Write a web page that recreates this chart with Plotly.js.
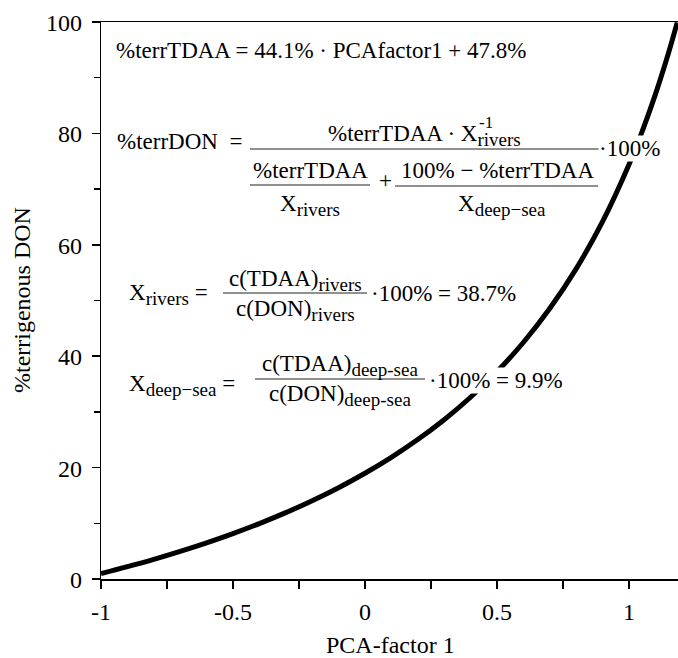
<!DOCTYPE html>
<html><head><meta charset="utf-8">
<script src="https://cdn.plot.ly/plotly-3.0.1.min.js"></script>
<style>html,body{margin:0;padding:0;background:#fff}#chart{width:678px;height:658px}</style>
</head><body><div id="chart"></div>
<script>
// Data
const pcaFactor = [-1, -0.9, -0.8, -0.7, -0.6, -0.5, -0.4, -0.3, -0.2, -0.1, 0, 0.1, 0.2, 0.3, 0.4, 0.5, 0.6, 0.7, 0.8, 0.9, 1.0, 1.05, 1.1, 1.15, 1.183];
const terrDON   = [0.97, 2.21, 3.53, 4.96, 6.49, 8.15, 9.95, 11.91, 14.05, 16.39, 18.98, 21.84, 25.03, 28.60, 32.63, 37.21, 42.46, 48.55, 55.68, 64.15, 74.38, 80.33, 86.97, 94.44, 99.9];
const xTickVals = [-1, -0.5, 0, 0.5, 1];
const xTickText = ['-1', '-0.5', '0', '0.5', '1'];
const xMinorVals = [-0.75, -0.25, 0.25, 0.75];
const yTickVals = [0, 20, 40, 60, 80, 100];
const yTickText = ['0', '20', '40', '60', '80', '100'];
const yMinorVals = [10, 30, 50, 70, 90];
const xTitle = 'PCA-factor 1';
const yTitle = '%terrigenous DON';

const L = 101, R = 678, T = 22, B = 579;
const W = R - L, H = B - T;
const px = x => (x - L) / W, py = y => (B - y) / H;
const FONT = 'Liberation Serif, Times New Roman, serif';
const sub = t => `<sub><span style="font-size:19px">${t}</span></sub>`;
const NB = '\u00A0';

const annotations = [];
function txt(text, x, y, anchor, opts) {
  const a = Object.assign({
    text: text, x: px(x), y: py(y), xref: 'paper', yref: 'paper',
    xanchor: anchor, yanchor: 'middle', showarrow: false, borderpad: 0,
    font: {family: FONT, size: 23, color: '#000'}
  }, opts || {});
  annotations.push(a);
}
const shapes = [];
function bar(x0, x1, y) {
  shapes.push({type: 'line', xref: 'paper', yref: 'paper',
    x0: px(x0), x1: px(x1), y0: py(y), y1: py(y),
    line: {color: '#222', width: 1.2}});
}

// tick labels placed through the axes' own scales
const tickFont = {family: FONT, size: 24, color: '#000'};
xTickVals.forEach((v, i) => annotations.push({
  text: xTickText[i], x: v, xref: 'x', y: py(612), yref: 'paper',
  xanchor: 'center', yanchor: 'middle', showarrow: false, borderpad: 0, font: tickFont
}));
yTickVals.forEach((v, i) => annotations.push({
  text: yTickText[i], y: v, yref: 'y', x: px(83), xref: 'paper',
  xanchor: 'right', yanchor: 'middle', yshift: -1, showarrow: false, borderpad: 0, font: tickFont
}));

// axis titles
txt(xTitle, 390, 645, 'center', {font: {family: FONT, size: 24, color: '#000'}});
txt(yTitle, 22, 300, 'center', {textangle: -90, font: {family: FONT, size: 24, color: '#000'}});

txt('%terrTDAA = 44.1% · PCAfactor1 + 47.8%', 115, 50, 'left');

txt('%terrDON' + NB + NB + '=', 116, 141, 'left');
txt('%terrTDAA · X' + sub('rivers'), 424, 135, 'center');
txt('-1', 478, 123, 'left', {font: {family: FONT, size: 17, color: '#000'}});
bar(250, 600, 149);
txt('%terrTDAA', 310, 170, 'center');
bar(250, 370, 185);
txt('X' + sub('rivers'), 310, 205, 'center');
txt('+', 385, 181, 'center');
txt('100% − %terrTDAA', 497, 170, 'center');
bar(395, 598, 186);
txt('X' + sub('deep−sea'), 502, 205, 'center');
txt('·100%', 598, 148, 'left', {bgcolor: '#fff'});

txt('X' + sub('rivers') + NB + '=', 128, 294, 'left');
txt('c(TDAA)' + sub('rivers'), 295, 280, 'center');
bar(223, 367, 293);
txt('c(DON)' + sub('rivers'), 295, 311, 'center');
txt('·100% = 38.7%', 370, 293, 'left');

txt('X' + sub('deep−sea') + NB + '=', 128, 385, 'left');
txt('c(TDAA)' + sub('deep-sea'), 340, 365, 'center');
bar(255, 425, 379);
txt('c(DON)' + sub('deep-sea'), 340, 395, 'center');
txt('·100% = 9.9%', 428, 380, 'left', {bgcolor: '#fff'});

const trace = {
  x: pcaFactor, y: terrDON, type: 'scatter', mode: 'lines',
  line: {color: '#000', width: 5, shape: 'spline', smoothing: 1},
  hoverinfo: 'none'
};

const axisCommon = {
  showgrid: false, zeroline: false, showline: true, linecolor: '#000', linewidth: 1.5,
  ticks: 'outside', ticklen: 8, tickwidth: 1.5, tickcolor: '#000',
  showticklabels: false, tickmode: 'array', fixedrange: true
};

const layout = {
  width: 678, height: 658,
  margin: {l: L, r: 678 - R, t: T, b: 658 - B, pad: 0},
  paper_bgcolor: '#fff', plot_bgcolor: '#fff',
  showlegend: false,
  font: {family: FONT, color: '#000'},
  xaxis: Object.assign({}, axisCommon, {
    range: [-1, 1.186], tickvals: xTickVals, mirror: true,
    minor: {tickmode: 'array', tickvals: xMinorVals, ticks: 'outside', ticklen: 8, tickwidth: 1.5, tickcolor: '#000'}
  }),
  yaxis: Object.assign({}, axisCommon, {
    range: [0, 100], tickvals: yTickVals,
    minor: {tickmode: 'array', tickvals: yMinorVals, ticks: 'outside', ticklen: 6, tickwidth: 1.5, tickcolor: '#000'}
  }),
  annotations: annotations,
  shapes: shapes
};

Plotly.newPlot('chart', [trace], layout, {displayModeBar: false, staticPlot: true});
</script>
</body></html>
